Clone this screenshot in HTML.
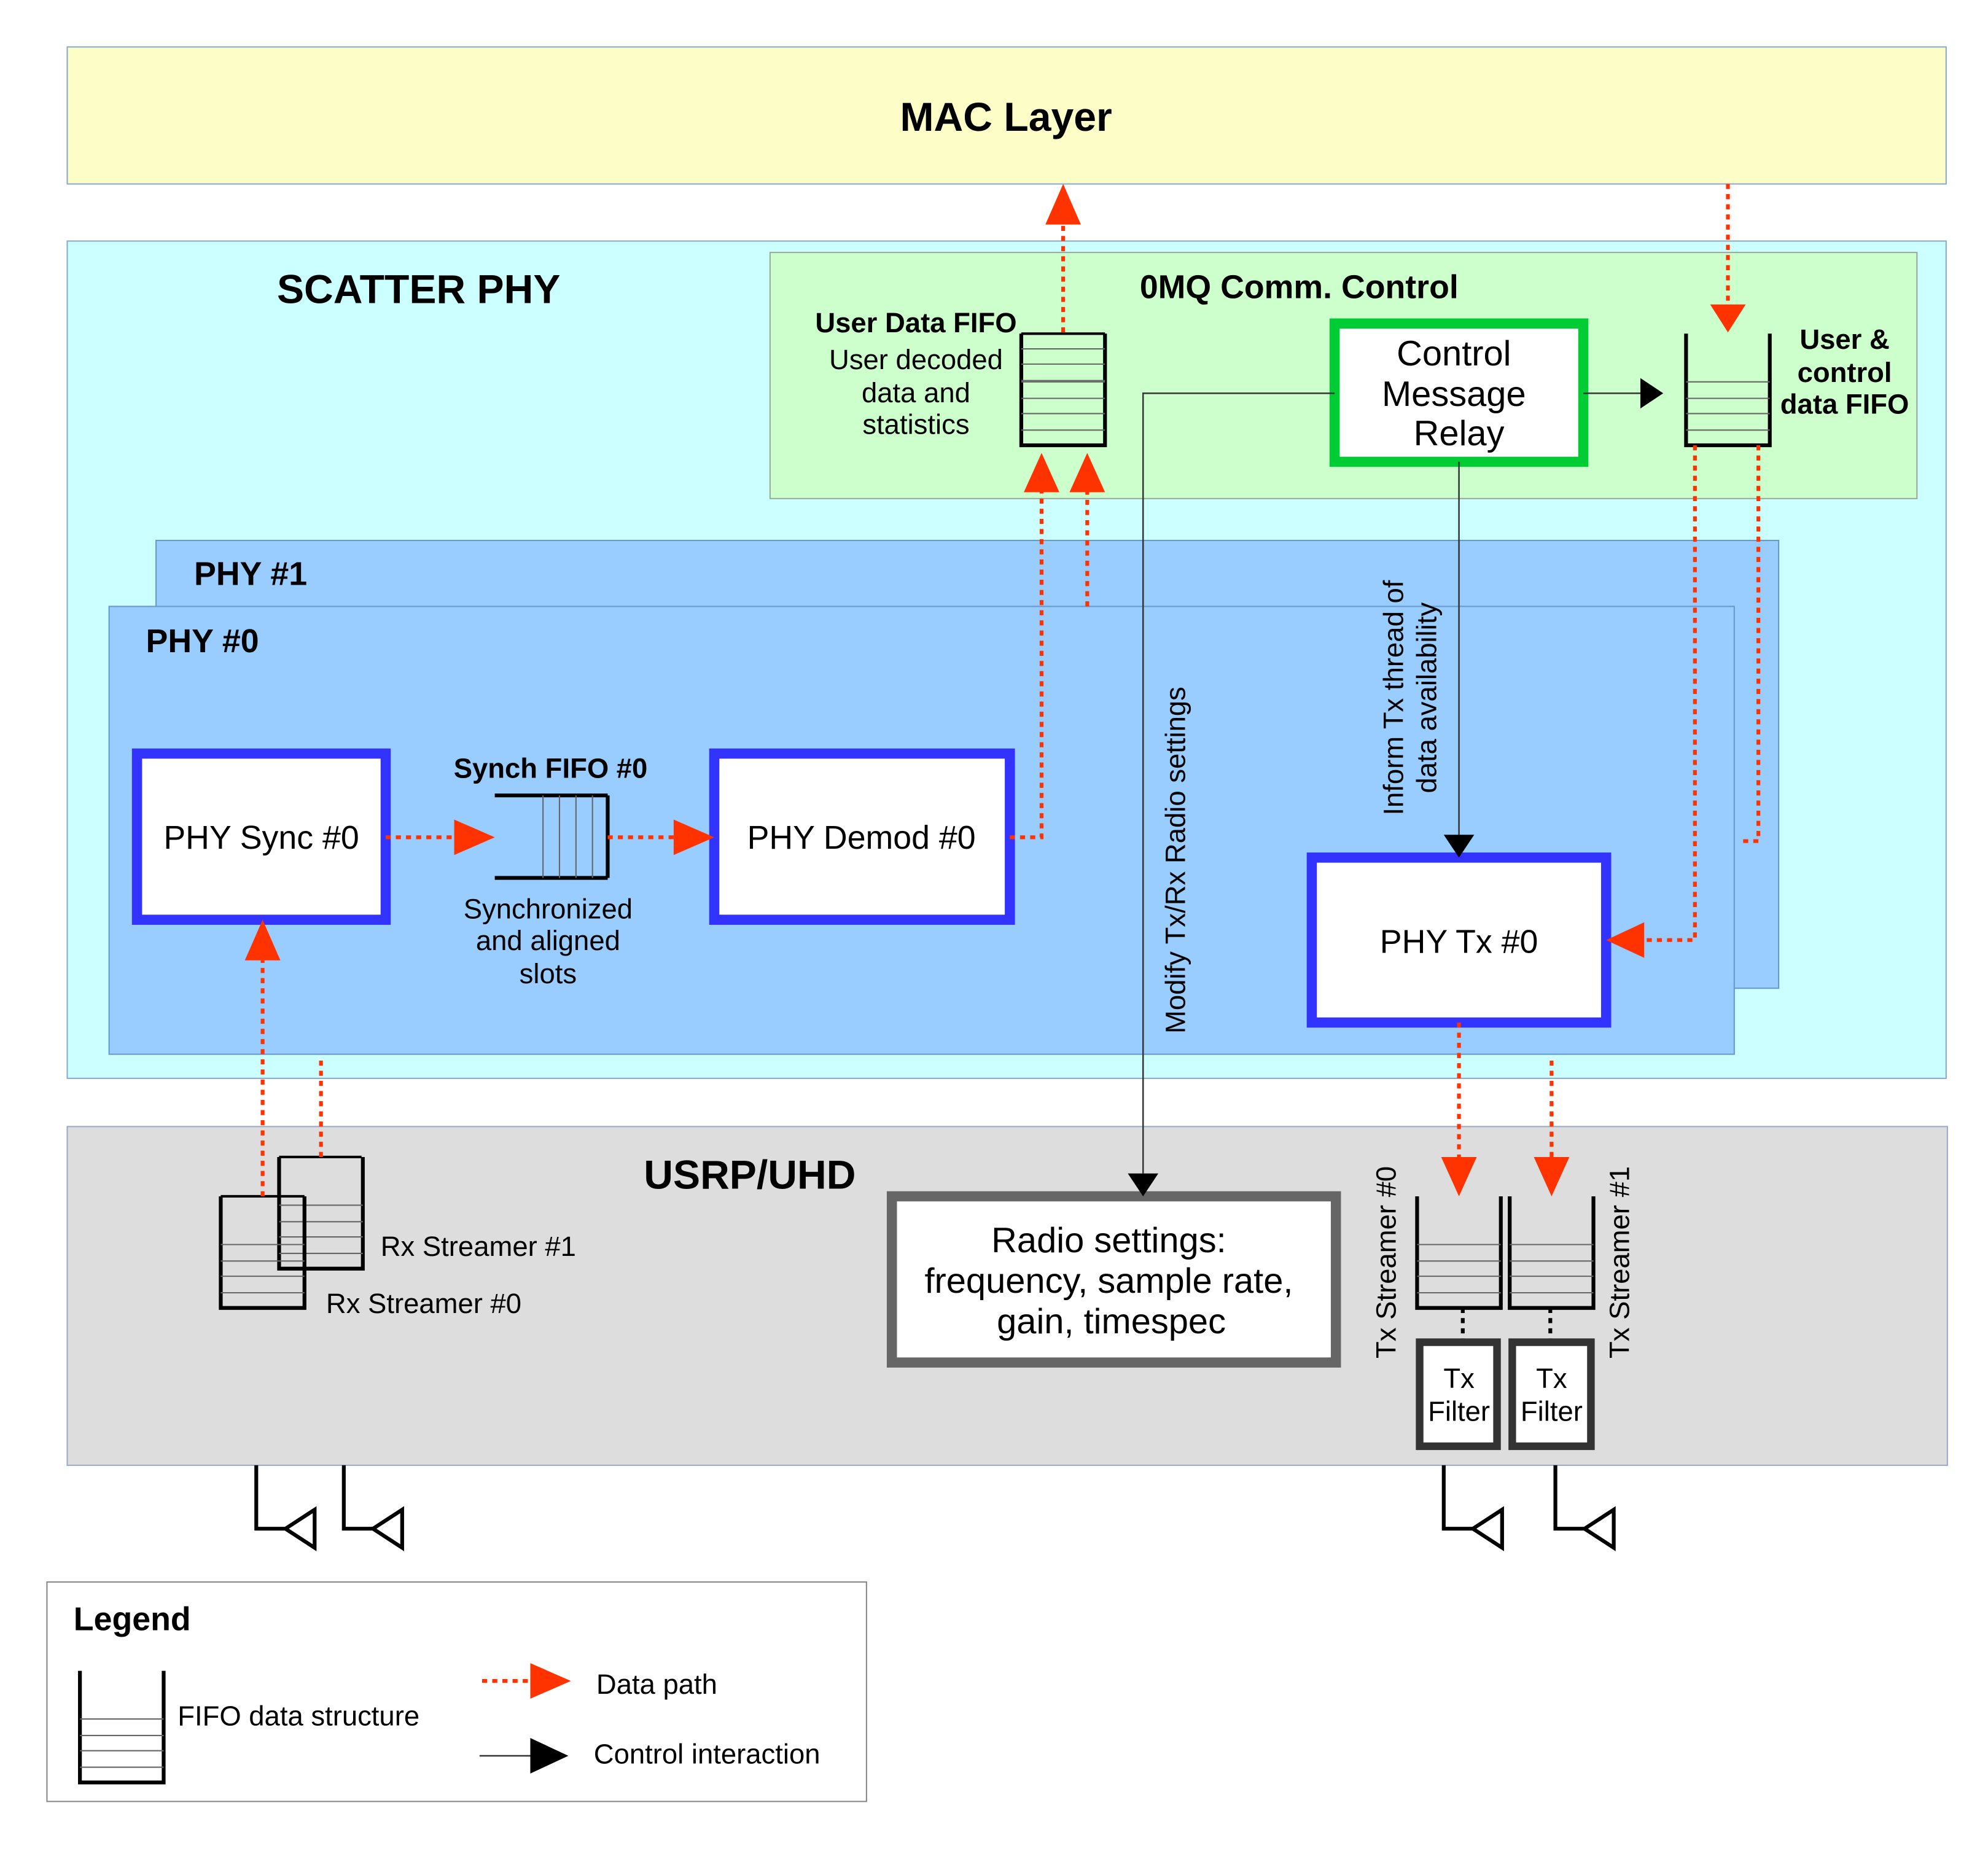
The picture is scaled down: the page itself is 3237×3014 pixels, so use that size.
<!DOCTYPE html>
<html><head><meta charset="utf-8"><style>html,body{margin:0;padding:0;background:#fff}svg{display:block}text{font-family:"Liberation Sans",sans-serif}</style></head><body>
<svg width="3237" height="3014" viewBox="0 0 1567 1459" preserveAspectRatio="xMinYMin meet" xmlns="http://www.w3.org/2000/svg">
<defs>
<g id="vf"><path d="M0,0 V88 H66 V0" fill="none" stroke="#000" stroke-width="3"/><path d="M0,38 H66 M0,51 H66 M0,63 H66 M0,76 H66" stroke="#666" stroke-width="1"/></g>
</defs>
<rect width="1567" height="1459" fill="#fff"/>
<rect x="53" y="37" width="1481" height="108" fill="#fdfdc8" stroke="#8aaacc"/>
<text x="793" y="103" font-size="32" font-weight="bold" text-anchor="middle">MAC Layer</text>
<rect x="53" y="190" width="1481" height="660" fill="#ccffff" stroke="#8aaacc"/>
<text x="330" y="239" font-size="32" font-weight="bold" text-anchor="middle">SCATTER PHY</text>
<rect x="607" y="199" width="904" height="194" fill="#ccffcc" stroke="#99aa99"/>
<text x="1024" y="235" font-size="26" font-weight="bold" text-anchor="middle">0MQ Comm. Control</text>
<rect x="123" y="426" width="1279" height="353" fill="#99ccff" stroke="#6699cc"/>
<text x="153" y="461" font-size="26" font-weight="bold">PHY #1</text>
<rect x="86" y="478" width="1281" height="353" fill="#99ccff" stroke="#6699cc"/>
<text x="115" y="514" font-size="26" font-weight="bold">PHY #0</text>
<rect x="53" y="888" width="1482" height="267" fill="#dddddd" stroke="#99aacc"/>
<text x="591" y="937" font-size="32" font-weight="bold" text-anchor="middle">USRP/UHD</text>
<rect x="37" y="1247" width="646" height="173" fill="#fff" stroke="#888"/>

<rect x="108" y="594" width="196" height="131" fill="#fff" stroke="#3333ff" stroke-width="8"/>
<text x="206" y="669" font-size="26" text-anchor="middle">PHY Sync #0</text>
<rect x="563" y="594" width="233" height="131" fill="#fff" stroke="#3333ff" stroke-width="8"/>
<text x="679" y="669" font-size="26" text-anchor="middle">PHY Demod #0</text>
<rect x="1034" y="676" width="232" height="130" fill="#fff" stroke="#3333ff" stroke-width="8"/>
<text x="1150" y="751" font-size="26" text-anchor="middle">PHY Tx #0</text>
<rect x="1052" y="255" width="196" height="109" fill="#fff" stroke="#00cc33" stroke-width="8"/>
<text font-size="28" text-anchor="middle"><tspan x="1146" y="288">Control</tspan><tspan x="1146" y="320">Message</tspan><tspan x="1150" y="351">Relay</tspan></text>
<rect x="703" y="943" width="350" height="131" fill="#fff" stroke="#666" stroke-width="8"/>
<text font-size="28" text-anchor="middle"><tspan x="874" y="987">Radio settings:</tspan><tspan x="874" y="1019">frequency, sample rate,</tspan><tspan x="876" y="1051">gain, timespec</tspan></text>

<path d="M390,627 H479 M390,692 H479 M479,627 V692" fill="none" stroke="#000" stroke-width="3"/>
<path d="M428,627 V692 M441,627 V692 M454,627 V692 M467,627 V692" stroke="#666"/>
<text x="434" y="613" font-size="22" font-weight="bold" text-anchor="middle">Synch FIFO #0</text>
<text font-size="22" text-anchor="middle"><tspan x="432" y="724">Synchronized</tspan><tspan x="432" y="749">and aligned</tspan><tspan x="432" y="775">slots</tspan></text>

<use href="#vf" x="805" y="263"/><path d="M805,263 H871" stroke="#000" stroke-width="2"/>
<path d="M805,275 H871 M805,287 H871 M805,300 H871" stroke="#666"/>
<text x="722" y="262" font-size="22" font-weight="bold" text-anchor="middle">User Data FIFO</text>
<text font-size="22" text-anchor="middle"><tspan x="722" y="291">User decoded</tspan><tspan x="722" y="317">data and</tspan><tspan x="722" y="342">statistics</tspan></text>
<use href="#vf" x="1329" y="263"/>
<text font-size="22" font-weight="bold" text-anchor="middle"><tspan x="1454" y="275">User &amp;</tspan><tspan x="1454" y="301">control</tspan><tspan x="1454" y="326">data FIFO</tspan></text>

<use href="#vf" x="220" y="912"/><path d="M220,912 H285" stroke="#000" stroke-width="2"/>
<use href="#vf" x="174" y="943"/><path d="M174,943 H240" stroke="#000" stroke-width="2"/>
<text x="300" y="990" font-size="22">Rx Streamer #1</text>
<text x="257" y="1035" font-size="22">Rx Streamer #0</text>
<use href="#vf" x="1117" y="943"/><use href="#vf" x="1190" y="943"/>
<text font-size="22" text-anchor="middle" transform="translate(1100,995) rotate(-90)">Tx Streamer #0</text>
<text font-size="22" text-anchor="middle" transform="translate(1284,995) rotate(-90)">Tx Streamer #1</text>
<path d="M1153,1031 V1058 M1222,1031 V1058" stroke="#000" stroke-width="3" stroke-dasharray="4,4"/>
<rect x="1119" y="1058" width="61" height="82" fill="#fff" stroke="#333" stroke-width="6"/>
<rect x="1192" y="1058" width="62" height="82" fill="#fff" stroke="#333" stroke-width="6"/>
<text font-size="22" text-anchor="middle"><tspan x="1150" y="1094">Tx</tspan><tspan x="1150" y="1120">Filter</tspan><tspan x="1223" y="1094">Tx</tspan><tspan x="1223" y="1120">Filter</tspan></text>

<g fill="#fff" stroke="#000" stroke-width="3">
<path d="M202,1155 V1205 H225 M225,1205 L248,1190 V1220 Z"/>
<path d="M271,1155 V1205 H294 M294,1205 L317,1190 V1220 Z"/>
<path d="M1138,1155 V1205 H1161 M1161,1205 L1184,1190 V1220 Z"/>
<path d="M1226,1155 V1205 H1249 M1249,1205 L1272,1190 V1220 Z"/>
</g>

<g fill="none" stroke="#ff3300" stroke-width="3" stroke-dasharray="4,4">
<path d="M838,262 V175"/><path d="M1362,145 V240"/>
<path d="M304,660 H360"/><path d="M479,660 H533"/>
<path d="M796,660 H821 V388"/><path d="M857,478 V388"/>
<path d="M1336,351 V741 H1296"/><path d="M1386,351 V663 H1370"/>
<path d="M207,943 V757"/><path d="M253,912 V836"/>
<path d="M1150,806 V912"/><path d="M1223,836 V912"/>
<path d="M380,1325 H418"/>
</g>
<g fill="#ff3300">
<path d="M838,145 L824,177 H852Z"/><path d="M1362,262 L1348,240 H1376Z"/>
<path d="M390,660 L358,646 V674Z"/><path d="M563,660 L531,646 V674Z"/>
<path d="M821,357 L807,388 H835Z"/><path d="M857,357 L843,388 H871Z"/>
<path d="M1266,741 L1296,727 V755Z"/>
<path d="M207,725 L193,757 H221Z"/>
<path d="M1150,943 L1136,912 H1164Z"/><path d="M1223,943 L1209,912 H1237Z"/>
<path d="M450,1325 L418,1311 V1339Z"/>
</g>

<g fill="none" stroke="#333" stroke-width="1.2">
<path d="M1248,310 H1295"/><path d="M1052,310 H901 V925"/><path d="M1150,364 V658"/><path d="M378,1384 H418"/>
</g>
<g fill="#000">
<path d="M1311,310 L1293,298 V322Z"/><path d="M901,943 L889,925 H913Z"/><path d="M1150,676 L1138,658 H1162Z"/><path d="M448,1384 L418,1370 V1398Z"/>
</g>
<text font-size="22" text-anchor="middle" transform="translate(934,678) rotate(-90)">Modify Tx/Rx Radio settings</text>
<text font-size="22" text-anchor="middle" transform="translate(1106,550) rotate(-90)">Inform Tx thread of</text>
<text font-size="22" text-anchor="middle" transform="translate(1132,550) rotate(-90)">data availability</text>

<text x="58" y="1285" font-size="26" font-weight="bold">Legend</text>
<use href="#vf" x="63" y="1317"/>
<text x="140" y="1360" font-size="22">FIFO data structure</text>
<text x="470" y="1335" font-size="22">Data path</text>
<text x="468" y="1390" font-size="22">Control interaction</text>
</svg>
</body></html>
